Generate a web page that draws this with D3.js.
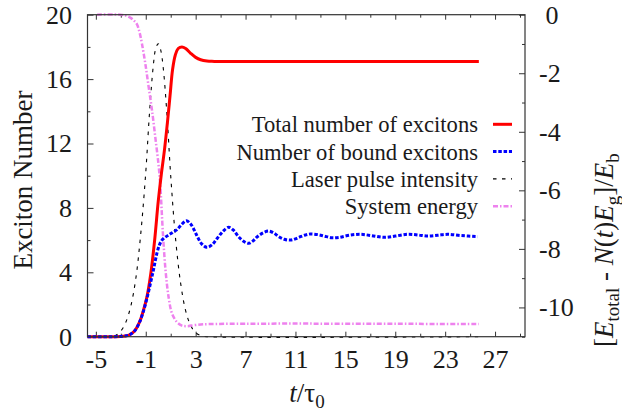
<!DOCTYPE html>
<html lang="en">
<head>
<meta charset="utf-8">
<script src="https://cdn.jsdelivr.net/npm/d3@7"></script>
<style>
  svg text { font-family: "Liberation Serif", serif !important; }
</style>
</head>
<body style="margin:0">
<script>

// time axis ticks (t / tau0)
var xMajor = [-5, -1, 3, 7, 11, 15, 19, 23, 27];
var xMinor = [-3, 1, 5, 9, 13, 17, 21, 25, 29];
var yMajor = [0, 4, 8, 12, 16, 20];
var yMinor = [2, 6, 10, 14, 18];
var y2Major = [0, -2, -4, -6, -8, -10];
var y2Minor = [-1, -3, -5, -7, -9, -11];

// series: [t/tau0, value]
var totalExcitons = [[-5.67,0],[-3.5,0],[-2.8,0.03],[-2.3,0.12],[-1.9,0.35],[-1.5,0.9],[-1.2,1.6],[-0.9,2.5],
  [-0.6,3.9],[-0.3,5.9],[0,8.4],[0.25,10.1],[0.5,11.6],[0.75,13.4],[0.95,15.0],[1.15,16.6],[1.37,17.5],
  [1.6,17.9],[1.9,18.0],[2.2,17.9],[2.6,17.6],[3.0,17.35],[3.4,17.2],[3.9,17.12],[4.5,17.1],[25.7,17.1]];

var boundExcitons = [[-5.67,0],[-3.5,0],[-2.8,0.03],[-2.3,0.12],[-1.9,0.35],[-1.5,0.9],[-1.2,1.55],[-0.9,2.4],
  [-0.6,3.4],[-0.37,4.2],[-0.1,5.2],[0.1,5.7],[0.3,6.0],[0.6,6.2],[0.85,6.32],[1.2,6.5],[1.5,6.65],[1.85,6.95],
  [2.25,7.2],[2.6,7.0],[2.9,6.6],[3.15,6.2],[3.5,5.75],[3.9,5.55],[4.3,5.7],[4.72,6.1],[5.2,6.55],[5.65,6.8],
  [6.05,6.6],[6.45,6.2],[6.9,5.9],[7.26,5.8],[7.6,5.95],[7.93,6.2],[8.4,6.45],[8.86,6.56],[9.3,6.42],[9.67,6.21],
  [10.1,6.05],[10.6,6.0],[11.0,6.08],[11.4,6.21],[11.8,6.32],[12.2,6.38],[12.8,6.34],[13.3,6.25],[13.9,6.15],
  [14.5,6.17],[15.3,6.3],[16.2,6.36],[17.1,6.28],[18.1,6.17],[19.0,6.25],[20.0,6.36],[20.8,6.32],[21.6,6.25],
  [22.4,6.3],[23.2,6.36],[24.3,6.28],[25.6,6.21]];

var laserPulse = [[-5.67,0],[-4,0],[-3.5,0.05],[-3,0.35],[-2.6,0.9],[-2.2,1.9],[-1.8,3.6],[-1.4,6.4],[-1.0,10.2],
  [-0.7,13.9],[-0.4,16.8],[-0.2,17.9],[0,18.2],[0.2,17.8],[0.4,16.7],[0.7,13.8],[1.0,10.0],[1.4,6.0],[1.8,3.3],
  [2.2,1.6],[2.6,0.7],[3.0,0.25],[3.5,0.05],[4,0],[25.7,0]];

// right axis
var systemEnergy = [[-4.9,0],[-3,0],[-2.6,-0.03],[-2.24,-0.1],[-1.95,-0.2],[-1.71,-0.32],[-1.5,-0.6],[-1.31,-0.98],
  [-1.04,-1.66],[-0.77,-2.46],[-0.5,-3.26],[-0.24,-4.17],[0.03,-5.15],[0.16,-5.8],[0.38,-7.5],[0.6,-8.8],
  [0.85,-9.7],[1.1,-10.2],[1.5,-10.5],[1.9,-10.62],[2.31,-10.64],[3.0,-10.6],[4,-10.57],[25.7,-10.57]];

var legendNames = ["Total number of excitons", "Number of bound excitons", "Laser pulse intensity", "System energy"];

var FONT = "Liberation Serif";
var INK = "#1a1a1a";

var margin = {top: 14.7, left: 87.5},
    width = 437.5,
    height = 322;

var xScale = d3.scaleLinear().domain([-5.67, 29.4]).range([0, width]);
var yScale = d3.scaleLinear().domain([0, 20]).range([height, 0]);
var y2Scale = d3.scaleLinear().domain([-11, 0]).range([height, 0]);

var svg = d3.select("body").append("svg")
    .attr("width", 622)
    .attr("height", 416);

var plot = svg.append("g")
    .attr("transform", "translate(" + margin.left + "," + margin.top + ")");

var fmt = function(d) { return String(d); };   // plain hyphen like the original
var fmtSigned = function(d) { return d >= 0 ? "\u00a0" + d : String(d); };  // gnuplot "% g" spacing

function tidy(g) {
  g.attr("font-family", FONT).attr("font-size", 26);
  g.select(".domain").remove();
  g.selectAll(".tick line").attr("stroke", "#333").attr("stroke-width", 1);
  g.selectAll("text").attr("fill", INK).style("font-family", FONT);
}

// bottom + mirrored top
plot.append("g").attr("transform", "translate(0," + height + ")")
    .call(d3.axisBottom(xScale).tickValues(xMajor).tickSize(-5).tickPadding(12.8).tickFormat(fmt))
    .call(tidy);
plot.append("g").attr("transform", "translate(0," + height + ")")
    .call(d3.axisBottom(xScale).tickValues(xMinor).tickSize(-3).tickFormat(""))
    .call(tidy);
plot.append("g")
    .call(d3.axisTop(xScale).tickValues(xMajor).tickSize(-5).tickFormat(""))
    .call(tidy);
plot.append("g")
    .call(d3.axisTop(xScale).tickValues(xMinor).tickSize(-3).tickFormat(""))
    .call(tidy);

// left axis
plot.append("g")
    .call(d3.axisLeft(yScale).tickValues(yMajor).tickSize(-6).tickPadding(15.5).tickFormat(fmt))
    .call(tidy);
plot.append("g")
    .call(d3.axisLeft(yScale).tickValues(yMinor).tickSize(-3).tickFormat(""))
    .call(tidy);

// right axis
plot.append("g").attr("transform", "translate(" + width + ",0)")
    .call(d3.axisRight(y2Scale).tickValues(y2Major).tickSize(-6).tickPadding(14).tickFormat(fmtSigned))
    .call(tidy);
plot.append("g").attr("transform", "translate(" + width + ",0)")
    .call(d3.axisRight(y2Scale).tickValues(y2Minor).tickSize(-3).tickFormat(""))
    .call(tidy);

var lineLeft = d3.line()
    .x(function(d) { return xScale(d[0]); })
    .y(function(d) { return yScale(d[1]); })
    .curve(d3.curveCatmullRom.alpha(0.5));

var lineRight = d3.line()
    .x(function(d) { return xScale(d[0]); })
    .y(function(d) { return y2Scale(d[1]); })
    .curve(d3.curveCatmullRom.alpha(0.5));

var styles = [
  {color: "#ff0000", width: 3, dash: null},
  {color: "#0000ff", width: 3, dash: "3.5,1.8"},
  {color: "#000000", width: 1.1, dash: "3.5,5.5"},
  {color: "#ee82ee", width: 2.5, dash: "5,2,1.5,2"}
];

var curves = [
  {data: laserPulse, s: styles[2], line: lineLeft},
  {data: systemEnergy, s: styles[3], line: lineRight},
  {data: totalExcitons, s: styles[0], line: lineLeft},
  {data: boundExcitons, s: styles[1], line: lineLeft}
];

curves.forEach(function(c) {
  plot.append("path")
      .datum(c.data)
      .attr("fill", "none")
      .attr("stroke", c.s.color)
      .attr("stroke-width", c.s.width)
      .attr("stroke-dasharray", c.s.dash)
      .attr("d", c.line);
});

// frame
plot.append("rect")
    .attr("width", width)
    .attr("height", height)
    .attr("fill", "none")
    .attr("stroke", "#333")
    .attr("stroke-width", 1.2);

// legend
legendNames.forEach(function(name, i) {
  var yy = 124.3 + i * 27.3;
  svg.append("text")
      .attr("x", 478)
      .attr("y", yy + 8)
      .attr("text-anchor", "end")
      .attr("font-family", FONT)
      .attr("font-size", 22.6)
      .attr("fill", INK)
      .text(name);
  svg.append("line")
      .attr("x1", 493).attr("x2", 512)
      .attr("y1", yy).attr("y2", yy)
      .attr("stroke", styles[i].color)
      .attr("stroke-width", styles[i].width)
      .attr("stroke-dasharray", styles[i].dash);
});

// axis titles
svg.append("text")
    .attr("transform", "translate(32,180) rotate(-90)")
    .attr("text-anchor", "middle")
    .attr("font-family", FONT)
    .attr("font-size", 27)
    .attr("fill", INK)
    .text("Exciton Number");

var xl = svg.append("text")
    .attr("x", 307)
    .attr("y", 402)
    .attr("text-anchor", "middle")
    .attr("font-family", FONT)
    .attr("font-size", 27)
    .attr("fill", INK);
xl.append("tspan").attr("font-style", "italic").text("t");
xl.append("tspan").text("/τ");
xl.append("tspan").attr("font-size", 19).attr("dy", 6).text("0");

var yl = svg.append("text")
    .attr("transform", "translate(613,347) rotate(-90)")
    .attr("font-family", FONT)
    .attr("font-size", 27)
    .attr("fill", INK);
yl.append("tspan").text("[");
yl.append("tspan").attr("font-style", "italic").text("E");
yl.append("tspan").attr("font-size", 19).attr("dy", 6).text("total");
yl.append("tspan").attr("dy", -6).text(" - ");
yl.append("tspan").attr("font-style", "italic").text("N");
yl.append("tspan").text("(");
yl.append("tspan").attr("font-style", "italic").text("t");
yl.append("tspan").text(")");
yl.append("tspan").attr("font-style", "italic").text("E");
yl.append("tspan").attr("font-size", 19).attr("dy", 6).text("g");
yl.append("tspan").attr("dy", -6).text("]/");
yl.append("tspan").attr("font-style", "italic").text("E");
yl.append("tspan").attr("font-size", 19).attr("dy", 6).text("b");

</script>
</body>
</html>
